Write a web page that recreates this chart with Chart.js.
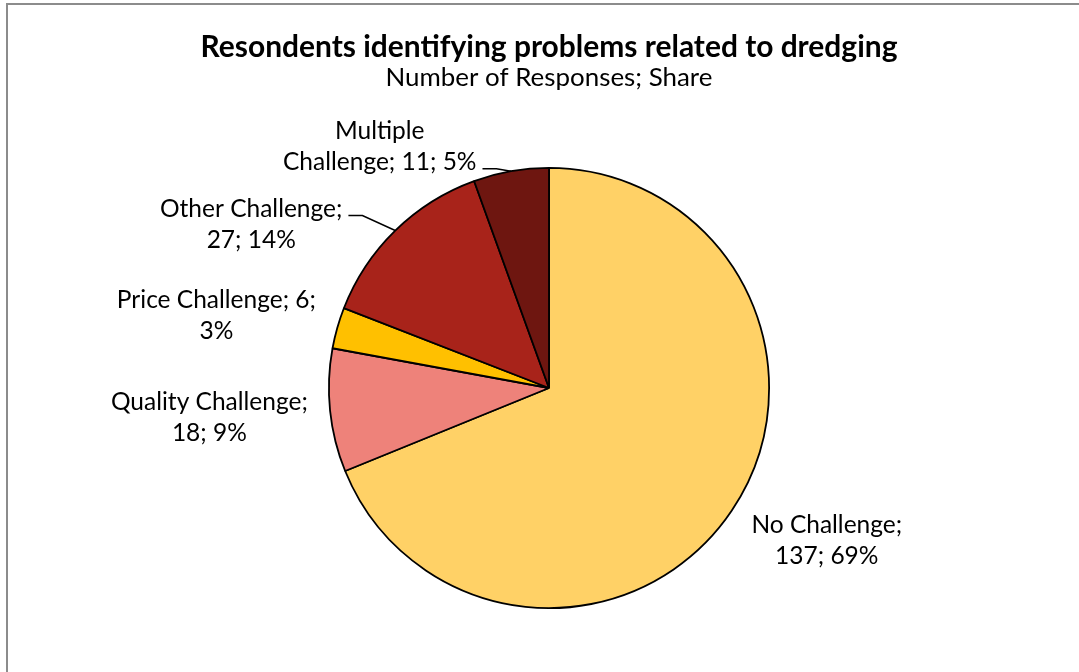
<!DOCTYPE html>
<html>
<head>
<meta charset="utf-8">
<script src="https://cdn.jsdelivr.net/npm/chart.js@4.4.1/dist/chart.umd.min.js"></script>
<style>
  html, body { margin: 0; padding: 0; background: #fff; overflow: hidden; }
  #wrap { position: relative; width: 1079px; height: 672px; }
  #frame { position: absolute; left: 6px; top: 3px; width: 1100px; height: 700px; border: 2px solid #8c8c8c; box-sizing: border-box; }
  canvas { position: absolute; left: 0; top: 0; }
</style>
</head>
<body>
<div id="wrap">
  <div id="frame"></div>
  <canvas id="myChart" width="1079" height="672"></canvas>
</div>
<script>
// data
const categories = ["No Challenge", "Quality Challenge", "Price Challenge", "Other Challenge", "Multiple Challenge"];
const responses = [137, 18, 6, 27, 11];
const shares = ["69%", "9%", "3%", "14%", "5%"];
const colors = ["#FFD166", "#EE827A", "#FFC000", "#A8231A", "#6E1610"];

const titleText = "Resondents identifying problems related to dredging";
const subtitleText = "Number of Responses; Share";

// label text lines (wrapped like the excel original)
const labelLines = categories.map((c, i) => {
    if (i == 2) return [c + "; " + responses[i] + ";", shares[i]];
    if (i == 4) return ["Multiple", "Challenge; " + responses[i] + "; " + shares[i]];
    return [c + ";", responses[i] + "; " + shares[i]];
});

// where each label sits, relative to pie centre, in radius units (x = centre of text, y = first baseline)
const labelPlace = [
    { dx: 1.262, dy: 0.660 },
    { dx: -1.543, dy: 0.099 },
    { dx: -1.511, dy: -0.363 },
    { dx: -1.353, dy: -0.779, leader: 0 },
    { dx: -0.769, dy: -1.132, leader: 1 },
];

const FONT = 'Lato, "Open Sans", sans-serif';

// pick a font size so the text comes out about as wide as in the original
function fitSize(ctx, text, width, weight) {
    ctx.font = weight + ' 20px ' + FONT;
    return 20 * width / ctx.measureText(text).width;
}

const textPlugin = {
    id: 'textPlugin',
    afterDatasetsDraw(chart) {
        const ctx = chart.ctx;
        const arcs = chart.getDatasetMeta(0).data;
        const cx = arcs[0].x, cy = arcs[0].y, r = arcs[0].outerRadius;
        ctx.save();
        ctx.fillStyle = '#000';
        ctx.textAlign = 'center';
        ctx.textBaseline = 'alphabetic';

        const ts = fitSize(ctx, titleText, 697, 'bold');
        ctx.font = 'bold ' + ts + 'px ' + FONT;
        ctx.fillText(titleText, cx, 57);
        const ss = fitSize(ctx, subtitleText, 327, 'normal');
        ctx.font = ss + 'px ' + FONT;
        ctx.fillText(subtitleText, cx, 86);

        const ls = fitSize(ctx, "Quality Challenge;", 197, 'normal');
        ctx.font = ls + 'px ' + FONT;
        const lh = 31;
        labelLines.forEach((lines, i) => {
            const p = labelPlace[i];
            const lx = cx + p.dx * r;
            const ly = cy + p.dy * r;
            lines.forEach((t, j) => ctx.fillText(t, lx, ly + j * lh));
            if (p.leader !== undefined) {
                const arc = arcs[i];
                const mid = (arc.startAngle + arc.endAngle) / 2;
                const ex = cx + Math.cos(mid) * r;
                const ey = cy + Math.sin(mid) * r;
                const w = ctx.measureText(lines[p.leader]).width;
                const sx = lx + w / 2 + 6;
                const sy = ly + p.leader * lh - 1;
                ctx.beginPath();
                ctx.moveTo(sx, sy);
                ctx.lineTo(sx + 14, sy);
                ctx.lineTo(ex, ey);
                ctx.strokeStyle = '#000';
                ctx.lineWidth = 1.5;
                ctx.stroke();
            }
        });
        ctx.restore();
    }
};

new Chart(document.getElementById("myChart"), {
    type: 'pie',
    data: {
        labels: categories,
        datasets: [{
            data: responses,
            backgroundColor: colors,
            borderColor: '#000',
            borderWidth: 1.8,
        }],
    },
    options: {
        responsive: false,
        animation: false,
        layout: { padding: { top: 167, left: 328, right: 309, bottom: 63 } },
        hover: { mode: null },
        plugins: {
            legend: { display: false },
            tooltip: { enabled: false },
        },
    },
    plugins: [textPlugin],
});
</script>
</body>
</html>
